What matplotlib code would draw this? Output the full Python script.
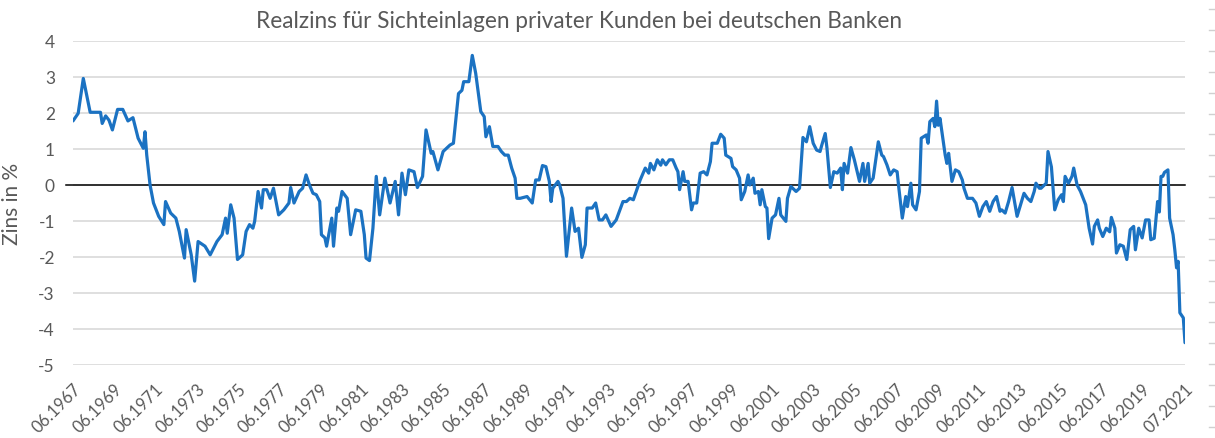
import matplotlib
matplotlib.use("Agg")
import matplotlib.pyplot as plt
import pandas as pd
from matplotlib.lines import Line2D

# ---------------- data ----------------
dates = [
    "1967-06", "1967-09", "1967-12", "1968-04", "1968-10", "1968-11", "1969-01", "1969-03", "1969-05", "1969-08",
    "1969-11", "1970-02", "1970-05", "1970-08", "1970-11", "1970-12", "1971-01", "1971-03", "1971-05", "1971-08",
    "1971-11", "1971-12", "1972-03", "1972-06", "1972-08", "1972-11", "1972-12", "1973-03", "1973-05", "1973-07",
    "1973-11", "1974-02", "1974-06", "1974-09", "1974-11", "1974-12", "1975-02", "1975-04", "1975-06", "1975-09",
    "1975-11", "1976-01", "1976-03", "1976-04", "1976-06", "1976-08", "1976-09", "1976-11", "1977-01", "1977-03",
    "1977-06", "1977-09", "1977-12", "1978-01", "1978-03", "1978-06", "1978-08", "1978-10", "1978-12", "1979-02",
    "1979-04", "1979-06", "1979-07", "1979-09", "1979-10", "1980-01", "1980-02", "1980-04", "1980-05", "1980-07",
    "1980-10", "1980-12", "1981-03", "1981-06", "1981-08", "1981-09", "1981-11", "1982-01", "1982-03", "1982-05",
    "1982-08", "1982-11", "1983-02", "1983-04", "1983-06", "1983-08", "1983-10", "1984-01", "1984-03", "1984-06",
    "1984-08", "1984-11", "1984-12", "1985-03", "1985-06", "1985-10", "1985-12", "1986-03", "1986-05", "1986-06",
    "1986-09", "1986-11", "1987-01", "1987-04", "1987-06", "1987-07", "1987-09", "1987-11", "1988-02", "1988-04",
    "1988-06", "1988-08", "1988-10", "1988-12", "1989-01", "1989-03", "1989-07", "1989-10", "1989-12", "1990-02",
    "1990-04", "1990-06", "1990-08", "1990-09", "1990-10", "1991-01", "1991-02", "1991-04", "1991-06", "1991-09",
    "1991-11", "1992-01", "1992-03", "1992-05", "1992-06", "1992-09", "1992-11", "1993-01", "1993-03", "1993-05",
    "1993-08", "1993-11", "1994-03", "1994-05", "1994-07", "1994-09", "1995-01", "1995-04", "1995-06", "1995-07",
    "1995-09", "1995-11", "1996-01", "1996-02", "1996-04", "1996-06", "1996-08", "1996-10", "1996-11", "1996-12",
    "1997-02", "1997-03", "1997-05", "1997-07", "1997-08", "1997-10", "1997-12", "1998-02", "1998-04", "1998-06",
    "1998-07", "1998-10", "1998-12", "1999-02", "1999-03", "1999-06", "1999-07", "1999-09", "1999-11", "1999-12",
    "2000-02", "2000-04", "2000-05", "2000-07", "2000-08", "2000-10", "2000-11", "2000-12", "2001-02", "2001-03",
    "2001-04", "2001-06", "2001-08", "2001-10", "2001-11", "2002-02", "2002-03", "2002-05", "2002-08", "2002-10",
    "2002-12", "2003-02", "2003-04", "2003-06", "2003-08", "2003-10", "2003-11", "2004-01", "2004-02", "2004-04",
    "2004-06", "2004-08", "2004-10", "2004-11", "2004-12", "2005-02", "2005-04", "2005-06", "2005-09", "2005-11",
    "2005-12", "2006-02", "2006-03", "2006-05", "2006-08", "2006-10", "2006-11", "2007-01", "2007-03", "2007-05",
    "2007-07", "2007-08", "2007-10", "2007-12", "2008-01", "2008-03", "2008-04", "2008-06", "2008-08", "2008-09",
    "2008-12", "2009-01", "2009-02", "2009-04", "2009-05", "2009-06", "2009-07", "2009-08", "2009-11", "2009-12",
    "2010-01", "2010-03", "2010-05", "2010-07", "2010-09", "2010-10", "2010-12", "2011-03", "2011-05", "2011-07",
    "2011-09", "2011-11", "2012-01", "2012-03", "2012-05", "2012-07", "2012-08", "2012-10", "2012-12", "2013-02",
    "2013-04", "2013-05", "2013-07", "2013-09", "2013-11", "2014-01", "2014-03", "2014-04", "2014-06", "2014-07",
    "2014-10", "2014-11", "2015-01", "2015-03", "2015-05", "2015-07", "2015-08", "2015-09", "2015-11", "2016-01",
    "2016-02", "2016-04", "2016-06", "2016-09", "2016-11", "2017-01", "2017-02", "2017-04", "2017-05", "2017-07",
    "2017-09", "2017-11", "2017-12", "2018-02", "2018-03", "2018-05", "2018-07", "2018-09", "2018-11", "2019-01",
    "2019-02", "2019-04", "2019-06", "2019-08", "2019-10", "2019-11", "2020-01", "2020-03", "2020-04", "2020-05",
    "2020-06", "2020-07", "2020-09", "2020-10", "2020-12", "2021-01", "2021-02", "2021-03", "2021-04", "2021-06",
    "2021-07",
]

realzins = [
    1.78, 1.99, 2.96, 2.02, 2.02, 1.71, 1.92, 1.80, 1.53, 2.10,
    2.10, 1.78, 1.87, 1.30, 1.02, 1.48, 0.83, 0.00, -0.50, -0.87,
    -1.10, -0.46, -0.78, -0.92, -1.29, -2.03, -1.24, -1.94, -2.67, -1.57,
    -1.70, -1.94, -1.57, -1.38, -0.92, -1.34, -0.55, -0.92, -2.07, -1.94,
    -1.29, -1.10, -1.20, -1.01, -0.18, -0.64, -0.13, -0.13, -0.37, -0.09,
    -0.83, -0.69, -0.50, -0.07, -0.50, -0.18, -0.09, 0.28, 0.00, -0.23,
    -0.27, -0.46, -1.38, -1.47, -1.70, -0.92, -1.70, -0.64, -0.73, -0.18,
    -0.37, -1.38, -0.69, -0.73, -1.38, -2.03, -2.10, -1.20, 0.24, -0.83,
    0.19, -0.50, 0.10, -0.83, 0.33, -0.27, 0.42, 0.37, -0.07, 0.24,
    1.53, 0.88, 0.93, 0.42, 0.93, 1.11, 1.16, 2.54, 2.63, 2.87,
    2.87, 3.60, 3.10, 2.04, 1.90, 1.34, 1.62, 1.07, 1.07, 0.93,
    0.83, 0.83, 0.47, 0.19, -0.37, -0.37, -0.32, -0.50, 0.14, 0.14,
    0.54, 0.51, 0.10, -0.46, -0.09, 0.10, 0.00, -0.37, -1.98, -0.64,
    -1.29, -1.20, -2.01, -1.66, -0.64, -0.64, -0.50, -0.97, -0.97, -0.83,
    -1.15, -0.97, -0.46, -0.46, -0.37, -0.41, 0.14, 0.47, 0.33, 0.60,
    0.42, 0.70, 0.55, 0.70, 0.56, 0.70, 0.70, 0.47, 0.37, -0.13,
    0.37, 0.10, 0.10, -0.69, -0.50, -0.50, 0.33, 0.37, 0.28, 0.65,
    1.16, 1.16, 1.41, 1.30, 0.83, 0.74, 0.51, 0.42, 0.19, -0.41,
    -0.18, 0.28, 0.00, 0.19, -0.23, -0.18, -0.55, -0.13, -0.60, -0.64,
    -1.49, -0.92, -0.83, -0.37, -0.83, -1.01, -0.37, -0.04, -0.18, -0.09,
    1.32, 1.20, 1.62, 1.16, 0.97, 0.93, 1.11, 1.43, 1.02, -0.07,
    0.37, 0.33, 0.47, -0.13, 0.60, 0.33, 1.04, 0.70, 0.10, 0.60,
    0.10, 0.60, 0.05, 0.19, 1.20, 0.83, 0.79, 0.56, 0.28, 0.42,
    0.37, -0.09, -0.92, -0.32, -0.60, 0.05, -0.55, -0.69, -0.18, 1.30,
    1.39, 1.16, 1.76, 1.85, 1.62, 2.33, 1.66, 1.85, 0.83, 0.60,
    0.88, 0.10, 0.42, 0.37, 0.14, -0.09, -0.37, -0.37, -0.50, -0.87,
    -0.60, -0.46, -0.73, -0.46, -0.32, -0.73, -0.69, -0.78, -0.46, -0.07,
    -0.60, -0.87, -0.55, -0.23, -0.37, -0.46, -0.18, 0.05, -0.09, -0.09,
    0.05, 0.93, 0.50, -0.69, -0.41, -0.27, -0.46, 0.24, 0.05, 0.24,
    0.47, 0.00, -0.18, -0.55, -1.20, -1.64, -1.15, -0.97, -1.20, -1.43,
    -1.20, -1.30, -0.90, -1.20, -1.89, -1.66, -1.70, -2.07, -1.24, -1.15,
    -1.80, -1.20, -1.47, -0.97, -0.97, -1.52, -1.48, -0.46, -0.75, 0.24,
    0.24, 0.35, 0.42, -0.92, -1.38, -1.80, -2.30, -2.12, -3.55, -3.69,
    -4.38,
]

y_ticks = [-5, -4, -3, -2, -1, 0, 1, 2, 3, 4]
y_ticklabels = ["-5", "-4", "-3", "-2", "-1", "0", "1", "2", "3", "4"]
x_tick_dates = ["1967-06", "1969-06", "1971-06", "1973-06", "1975-06", "1977-06", "1979-06",
                "1981-06", "1983-06", "1985-06", "1987-06", "1989-06", "1991-06", "1993-06",
                "1995-06", "1997-06", "1999-06", "2001-06", "2003-06", "2005-06", "2007-06",
                "2009-06", "2011-06", "2013-06", "2015-06", "2017-06", "2019-06", "2021-07"]
x_ticklabels = ["06.1967", "06.1969", "06.1971", "06.1973", "06.1975", "06.1977", "06.1979",
                "06.1981", "06.1983", "06.1985", "06.1987", "06.1989", "06.1991", "06.1993",
                "06.1995", "06.1997", "06.1999", "06.2001", "06.2003", "06.2005", "06.2007",
                "06.2009", "06.2011", "06.2013", "06.2015", "06.2017", "06.2019", "07.2021"]

title = "Realzins für Sichteinlagen privater Kunden bei deutschen Banken"
ylabel = "Zins in %"

assert len(dates) == len(realzins)

# ---------------- styling ----------------
plt.rcParams["font.family"] = ["Lato", "DejaVu Sans"]
GRAY = "#595959"
BLUE = "#1B72C2"

W, H = 1215, 439
fig = plt.figure(figsize=(W / 100, H / 100), dpi=100)
left, right, top, bottom = 73, 1185, 42, 366
ax = fig.add_axes([left / W, 1 - bottom / H, (right - left) / W, (bottom - top) / H])

x = pd.to_datetime(dates, format="%Y-%m")
ax.plot(x, realzins, color=BLUE, lw=2.3, solid_joinstyle="round", solid_capstyle="round", zorder=3)

ax.set_ylim(-5, 4)
ax.set_yticks(y_ticks)
ax.set_yticklabels(y_ticklabels)
ax.set_xlim(x[0], x[-1])
xt = pd.to_datetime(x_tick_dates, format="%Y-%m")
ax.set_xticks(xt)
ax.set_xticklabels(x_ticklabels, rotation=45, ha="right", rotation_mode="anchor")

ax.grid(axis="y", color="#d9d9d9", lw=1.2)
ax.grid(axis="x", visible=False)
ax.set_axisbelow(True)
for s in ax.spines.values():
    s.set_visible(False)
ax.axhline(0, color="black", lw=1.1, xmin=-0.006, xmax=1.0, clip_on=False, zorder=2)

ax.tick_params(axis="y", length=0, labelcolor=GRAY, labelsize=12.5, pad=13)
ax.tick_params(axis="x", length=0, labelcolor=GRAY, labelsize=12, pad=11)

ax.set_ylabel(ylabel, color=GRAY, fontsize=15)
ax.yaxis.set_label_coords(-0.046, 0.5)

fig.text(579 / W, 1 - 21 / H, title, ha="center", va="center", color=GRAY, fontsize=16.3)

# faint dashes at the right edge of the picture
yy = 10.0
while yy < H - 5:
    fig.add_artist(Line2D([1209 / W, 1.0], [1 - yy / H, 1 - yy / H], transform=fig.transFigure,
                          color="#d0d0d0", lw=1.0))
    yy += 20.9

fig.savefig("out.png", dpi=100)
